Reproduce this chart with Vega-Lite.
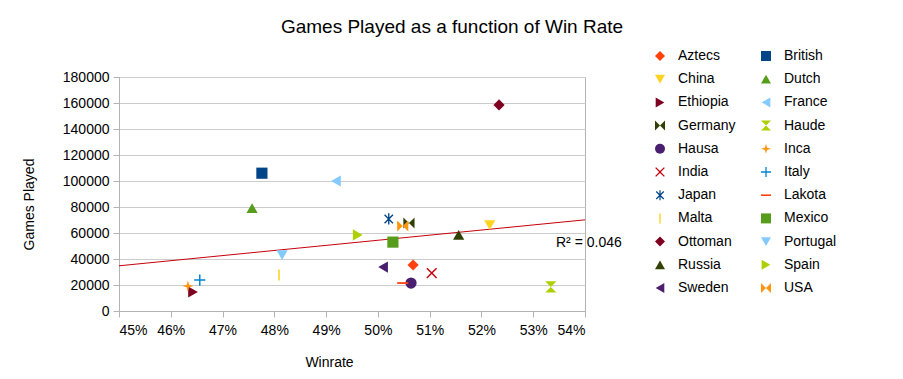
{
  "$schema": "https://vega.github.io/schema/vega-lite/v6.json",
  "autosize": {"type": "none"},
  "padding": {"left": 119, "top": 77, "right": 318, "bottom": 68},
  "width": 466,
  "height": 234,
  "background": "white",
  "config": {
    "font": "Liberation Sans",
    "view": {"stroke": "#b3b3b3", "strokeWidth": 1},
    "axis": {
      "labelFont": "Liberation Sans",
      "labelFontSize": 14,
      "labelColor": "#000000",
      "labelOverlap": false,
      "titleFont": "Liberation Sans",
      "titleFontSize": 14,
      "titleFontWeight": "normal",
      "titleColor": "#000000",
      "domainColor": "#b3b3b3",
      "tickColor": "#b3b3b3",
      "gridColor": "#cccccc",
      "tickSize": 6
    },
    "legend": {
      "labelFont": "Liberation Sans",
      "labelFontSize": 14,
      "labelColor": "#000000"
    }
  },
  "title": {
    "text": "Games Played as a function of Win Rate",
    "fontSize": 19,
    "fontWeight": "normal",
    "font": "Liberation Sans",
    "color": "#000000",
    "anchor": "middle",
    "frame": "group",
    "dx": 100,
    "offset": 12
  },
  "data": {
    "values": [
      {"civ": "Aztecs", "winrate": 0.5068, "games": 35400},
      {"civ": "British", "winrate": 0.4776, "games": 106000},
      {"civ": "China", "winrate": 0.5216, "games": 66150},
      {"civ": "Dutch", "winrate": 0.4757, "games": 79200},
      {"civ": "Ethiopia", "winrate": 0.4643, "games": 14600},
      {"civ": "France", "winrate": 0.4919, "games": 100000},
      {"civ": "Germany", "winrate": 0.506, "games": 67700},
      {"civ": "Haude", "winrate": 0.5334, "games": 18500},
      {"civ": "Hausa", "winrate": 0.5064, "games": 21500},
      {"civ": "Inca", "winrate": 0.4633, "games": 19200},
      {"civ": "India", "winrate": 0.5104, "games": 29200},
      {"civ": "Italy", "winrate": 0.4656, "games": 23800},
      {"civ": "Japan", "winrate": 0.5021, "games": 70800},
      {"civ": "Lakota", "winrate": 0.5048, "games": 21500},
      {"civ": "Malta", "winrate": 0.4809, "games": 27700},
      {"civ": "Mexico", "winrate": 0.5029, "games": 53000},
      {"civ": "Ottoman", "winrate": 0.5234, "games": 158500},
      {"civ": "Portugal", "winrate": 0.4815, "games": 43000},
      {"civ": "Russia", "winrate": 0.5156, "games": 58500},
      {"civ": "Spain", "winrate": 0.4961, "games": 58500},
      {"civ": "Sweden", "winrate": 0.501, "games": 33800},
      {"civ": "USA", "winrate": 0.5048, "games": 65400}
    ]
  },
  "encoding": {
    "x": {
      "field": "winrate",
      "type": "quantitative",
      "scale": {"domain": [0.45, 0.54], "nice": false, "zero": false},
      "axis": {
        "values": [0.45, 0.46, 0.47, 0.48, 0.49, 0.5, 0.51, 0.52, 0.53, 0.54],
        "format": ".0%",
        "grid": false,
        "labelPadding": 6,
        "title": "Winrate",
        "titleX": 210,
        "titleY": 51,
        "titleAlign": "center",
        "titleBaseline": "middle"
      }
    },
    "y": {
      "field": "games",
      "type": "quantitative",
      "scale": {"domain": [0, 180000], "nice": false},
      "axis": {
        "values": [0, 20000, 40000, 60000, 80000, 100000, 120000, 140000, 160000, 180000],
        "format": "d",
        "grid": true,
        "labelPadding": 4,
        "title": "Games Played",
        "titleX": -90,
        "titleY": 127,
        "titleAlign": "center",
        "titleBaseline": "middle"
      }
    }
  },
  "layer": [
    {
      "mark": {"type": "line", "color": "#c5000b", "strokeWidth": 1, "clip": true},
      "transform": [{"regression": "games", "on": "winrate", "extent": [0.45, 0.54]}],
      "encoding": {}
    },
    {
      "mark": {"type": "point", "filled": true, "opacity": 1, "size": 125, "strokeWidth": 0},
      "encoding": {
        "color": {
          "field": "civ",
          "type": "nominal",
          "scale": {
            "domain": ["Aztecs", "China", "Ethiopia", "Germany", "Hausa", "India", "Japan", "Malta", "Ottoman", "Russia", "Sweden", "British", "Dutch", "France", "Haude", "Inca", "Italy", "Lakota", "Mexico", "Portugal", "Spain", "USA"],
            "range": ["#ff420e", "#ffd320", "#7e0021", "#314004", "#4b1f6f", "#c5000b", "#004586", "#ffd320", "#7e0021", "#314004", "#4b1f6f", "#004586", "#579d1c", "#83caff", "#aecf00", "#ff950e", "#0084d1", "#ff420e", "#579d1c", "#83caff", "#aecf00", "#ff950e"]
          },
          "legend": {
            "title": null,
            "orient": "none",
            "legendX": 534,
            "legendY": -28,
            "columns": 2,
            "columnPadding": 23,
            "rowPadding": 9.2,
            "labelOffset": 11,
            "symbolSize": 100,
            "symbolStrokeWidth": 0,
            "padding": 0
          }
        },
        "shape": {
          "field": "civ",
          "type": "nominal",
          "scale": {
            "domain": ["Aztecs", "China", "Ethiopia", "Germany", "Hausa", "India", "Japan", "Malta", "Ottoman", "Russia", "Sweden", "British", "Dutch", "France", "Haude", "Inca", "Italy", "Lakota", "Mexico", "Portugal", "Spain", "USA"],
            "range": [
              "diamond",
              "triangle-down",
              "triangle-right",
              "M-1,-1L0,0L-1,1ZM1,-1L1,1L0,0Z",
              "circle",
              "M0,-0.18L0.78,-0.96L0.96,-0.78L0.18,0L0.96,0.78L0.78,0.96L0,0.18L-0.78,0.96L-0.96,0.78L-0.18,0L-0.96,-0.78L-0.78,-0.96Z",
              "M-0.12,-1H0.12V1H-0.12ZM-0.835,-0.665L-0.665,-0.835L0.835,0.665L0.665,0.835ZM0.665,-0.835L0.835,-0.665L-0.665,0.835L-0.835,0.665Z",
              "M-0.14,-1H0.14V1H-0.14Z",
              "diamond",
              "triangle-up",
              "triangle-left",
              "square",
              "triangle-up",
              "triangle-left",
              "M-1,-1H1L0,0ZM0,0L1,1H-1Z",
              "M0,-1L0.22,-0.22L1,0L0.22,0.22L0,1L-0.22,0.22L-1,0L-0.22,-0.22Z",
              "M-0.13,-1H0.13V-0.13H1V0.13H0.13V1H-0.13V0.13H-1V-0.13H-0.13Z",
              "M-1,-0.16H1V0.16H-1Z",
              "square",
              "triangle-down",
              "triangle-right",
              "M-1,-1L0,0L-1,1ZM1,-1L1,1L0,0Z"
            ]
          },
          "legend": null
        }
      }
    },
    {
      "data": {"values": [{"label": "R² = 0.046", "winrate": 0.5344, "games": 52300}]},
      "mark": {"type": "text", "align": "left", "baseline": "middle", "fontSize": 14, "font": "Liberation Sans", "color": "#000000", "clip": false},
      "encoding": {
        "text": {"field": "label", "type": "nominal"}
      }
    }
  ]
}
